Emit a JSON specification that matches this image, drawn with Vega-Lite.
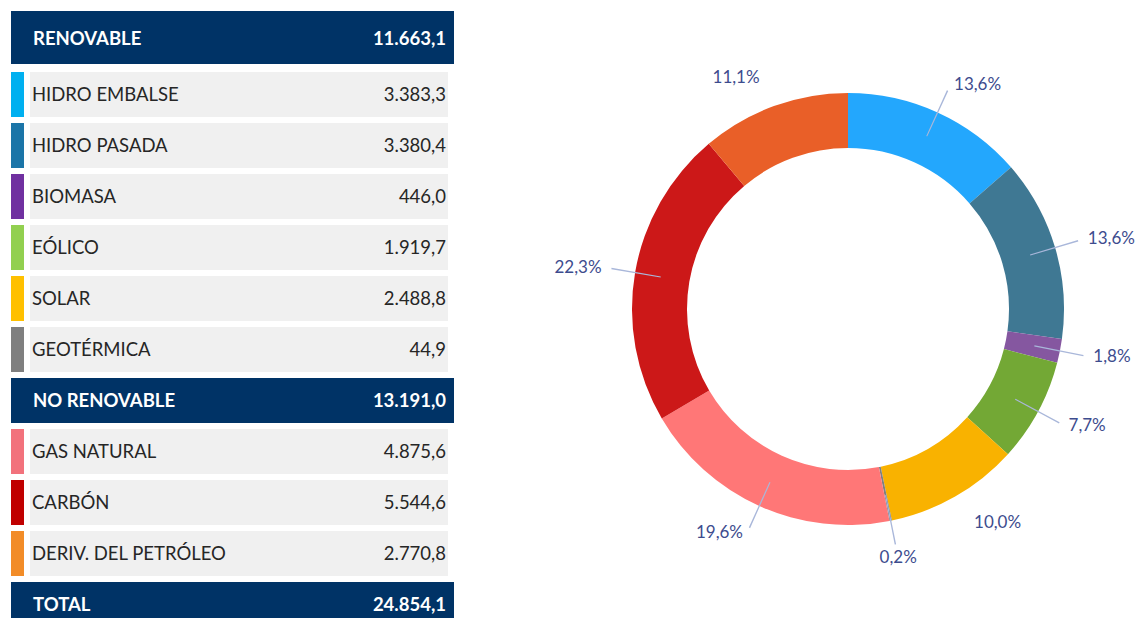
{
  "$schema": "https://vega.github.io/schema/vega-lite/v6.json",
  "padding": 0,
  "spacing": 99,
  "background": "white",
  "config": {
    "view": {"stroke": null},
    "font": "Lato",
    "locale": {"number": {"decimal": ",", "thousands": ".", "grouping": [3], "currency": ["", " €"]}}
  },
  "resolve": {"scale": {"color": "independent"}},
  "datasets": {
    "tabla": [
      {"i": 0, "label": "RENOVABLE", "value": 11663.1, "type": "header", "cat": "RENOVABLE"},
      {"i": 1, "label": "HIDRO EMBALSE", "value": 3383.3, "type": "item", "cat": "HIDRO EMBALSE"},
      {"i": 2, "label": "HIDRO PASADA", "value": 3380.4, "type": "item", "cat": "HIDRO PASADA"},
      {"i": 3, "label": "BIOMASA", "value": 446.0, "type": "item", "cat": "BIOMASA"},
      {"i": 4, "label": "EÓLICO", "value": 1919.7, "type": "item", "cat": "EÓLICO"},
      {"i": 5, "label": "SOLAR", "value": 2488.8, "type": "item", "cat": "SOLAR"},
      {"i": 6, "label": "GEOTÉRMICA", "value": 44.9, "type": "item", "cat": "GEOTÉRMICA"},
      {"i": 7, "label": "NO RENOVABLE", "value": 13191.0, "type": "header", "cat": "NO RENOVABLE"},
      {"i": 8, "label": "GAS NATURAL", "value": 4875.6, "type": "item", "cat": "GAS NATURAL"},
      {"i": 9, "label": "CARBÓN", "value": 5544.6, "type": "item", "cat": "CARBÓN"},
      {"i": 10, "label": "DERIV. DEL PETRÓLEO", "value": 2770.8, "type": "item", "cat": "DERIV. DEL PETRÓLEO"},
      {"i": 11, "label": "TOTAL", "value": 24854.1, "type": "header", "cat": "TOTAL"}
    ],
    "energia": [
      {"cat": "HIDRO EMBALSE", "value": 3383.3, "pct": 0.136, "order": 1},
      {"cat": "HIDRO PASADA", "value": 3380.4, "pct": 0.136, "order": 2},
      {"cat": "BIOMASA", "value": 446.0, "pct": 0.018, "order": 3},
      {"cat": "EÓLICO", "value": 1919.7, "pct": 0.077, "order": 4},
      {"cat": "SOLAR", "value": 2488.8, "pct": 0.100, "order": 5},
      {"cat": "GEOTÉRMICA", "value": 44.9, "pct": 0.002, "order": 6},
      {"cat": "GAS NATURAL", "value": 4875.6, "pct": 0.196, "order": 7},
      {"cat": "CARBÓN", "value": 5544.6, "pct": 0.223, "order": 8},
      {"cat": "DERIV. DEL PETRÓLEO", "value": 2770.8, "pct": 0.111, "order": 9}
    ]
  },
  "hconcat": [
    {
      "width": 455,
      "height": 618,
      "data": {"name": "tabla"},
      "encoding": {
        "y": {"field": "i", "type": "ordinal", "axis": null,
              "scale": {"range": [18, 630], "paddingInner": 0.118, "paddingOuter": 0.059}}
      },
      "layer": [
        {
          "transform": [{"filter": "datum.type === 'item'"}],
          "mark": {"type": "rect", "color": "#F0F0F0"},
          "encoding": {"x": {"value": 30}, "x2": {"value": 448}}
        },
        {
          "transform": [{"filter": "datum.type === 'header' && datum.i > 0"}],
          "mark": {"type": "rect", "color": "#003366", "clip": true},
          "encoding": {"x": {"value": 11}, "x2": {"value": 454}}
        },
        {
          "transform": [{"filter": "datum.i === 0"}],
          "mark": {"type": "rect", "color": "#003366", "yOffset": -6, "height": 53},
          "encoding": {"x": {"value": 11}, "x2": {"value": 454}}
        },
        {
          "transform": [{"filter": "datum.type === 'item'"}],
          "mark": {"type": "rect"},
          "encoding": {
            "x": {"value": 11}, "x2": {"value": 24},
            "color": {"field": "cat", "type": "nominal", "legend": null,
              "scale": {
                "domain": ["HIDRO EMBALSE", "HIDRO PASADA", "BIOMASA", "EÓLICO", "SOLAR", "GEOTÉRMICA", "GAS NATURAL", "CARBÓN", "DERIV. DEL PETRÓLEO"],
                "range": ["#00B0F0", "#1B75A8", "#7030A0", "#92D050", "#FFC000", "#7F7F7F", "#F2727C", "#C00000", "#F28C28"]
              }}
          }
        },
        {
          "transform": [{"filter": "datum.type === 'item'"}],
          "mark": {"type": "text", "align": "left", "baseline": "middle", "fontSize": 18.5, "color": "#262626"},
          "encoding": {"x": {"value": 32}, "text": {"field": "label"}}
        },
        {
          "transform": [{"filter": "datum.type === 'item'"}],
          "mark": {"type": "text", "align": "right", "baseline": "middle", "fontSize": 18.5, "color": "#262626"},
          "encoding": {"x": {"value": 446}, "text": {"field": "value", "type": "quantitative", "format": ",.1f"}}
        },
        {
          "transform": [{"filter": "datum.type === 'header' && datum.i > 0"}],
          "mark": {"type": "text", "align": "left", "baseline": "middle", "fontSize": 18.5, "fontWeight": "bold", "color": "white"},
          "encoding": {"x": {"value": 33}, "text": {"field": "label"}}
        },
        {
          "transform": [{"filter": "datum.type === 'header' && datum.i > 0"}],
          "mark": {"type": "text", "align": "right", "baseline": "middle", "fontSize": 18.5, "fontWeight": "bold", "color": "white"},
          "encoding": {"x": {"value": 446}, "text": {"field": "value", "type": "quantitative", "format": ",.1f"}}
        },
        {
          "transform": [{"filter": "datum.i === 0"}],
          "mark": {"type": "text", "align": "left", "baseline": "middle", "fontSize": 18.5, "fontWeight": "bold", "color": "white", "yOffset": -5},
          "encoding": {"x": {"value": 33}, "text": {"field": "label"}}
        },
        {
          "transform": [{"filter": "datum.i === 0"}],
          "mark": {"type": "text", "align": "right", "baseline": "middle", "fontSize": 18.5, "fontWeight": "bold", "color": "white", "yOffset": -5},
          "encoding": {"x": {"value": 446}, "text": {"field": "value", "type": "quantitative", "format": ",.1f"}}
        }
      ]
    },
    {
      "width": 582,
      "height": 618,
      "data": {"name": "energia"},
      "transform": [
        {"stack": "value", "sort": [{"field": "order", "order": "ascending"}], "groupby": [], "as": ["v0", "v1"]}
      ],
      "layer": [
        {
          "mark": {"type": "arc", "outerRadius": 216, "innerRadius": 161},
          "encoding": {
            "theta": {"field": "v0", "type": "quantitative", "stack": null, "scale": {"domain": [0, 24854.1]}},
            "theta2": {"field": "v1"},
            "color": {"field": "cat", "type": "nominal", "legend": null,
              "scale": {
                "domain": ["HIDRO EMBALSE", "HIDRO PASADA", "BIOMASA", "EÓLICO", "SOLAR", "GEOTÉRMICA", "GAS NATURAL", "CARBÓN", "DERIV. DEL PETRÓLEO"],
                "range": ["#23A7FD", "#3F7893", "#8557A0", "#73A835", "#F9B200", "#808080", "#FF7777", "#CC1818", "#E95F28"]
              }}
          }
        },
        {
          "transform": [
            {"fold": ["v0", "v1"], "as": ["k", "edge"]},
            {"aggregate": [{"op": "mean", "field": "edge", "as": "mid"}], "groupby": ["cat"]},
            {"filter": {"field": "cat", "oneOf": ["HIDRO EMBALSE", "HIDRO PASADA", "BIOMASA", "EÓLICO", "GEOTÉRMICA", "GAS NATURAL", "CARBÓN"]}}
          ],
          "mark": {"type": "arc", "outerRadius": 240, "innerRadius": 190, "thetaOffset": -0.003, "theta2Offset": 0.003, "color": "#A9B7DA"},
          "encoding": {
            "theta": {"field": "mid", "type": "quantitative", "stack": null},
            "theta2": {"field": "mid"}
          }
        },
        {
          "transform": [
            {"fold": ["v0", "v1"], "as": ["k", "edge"]},
            {"aggregate": [{"op": "mean", "field": "edge", "as": "mid"}, {"op": "max", "field": "pct", "as": "pct"}, {"op": "max", "field": "order", "as": "order"}], "groupby": ["cat"]},
            {"filter": "datum.order <= 5"}
          ],
          "mark": {"type": "text", "radius": 246, "align": "left", "baseline": "middle", "dx": 4, "fontSize": 17, "color": "#3D4C8E"},
          "encoding": {
            "theta": {"field": "mid", "type": "quantitative", "stack": null},
            "text": {"field": "pct", "type": "quantitative", "format": ".1%"}
          }
        },
        {
          "transform": [
            {"fold": ["v0", "v1"], "as": ["k", "edge"]},
            {"aggregate": [{"op": "mean", "field": "edge", "as": "mid"}, {"op": "max", "field": "pct", "as": "pct"}, {"op": "max", "field": "order", "as": "order"}], "groupby": ["cat"]},
            {"filter": "datum.order >= 7"}
          ],
          "mark": {"type": "text", "radius": 246, "align": "right", "baseline": "middle", "dx": -4, "fontSize": 17, "color": "#3D4C8E"},
          "encoding": {
            "theta": {"field": "mid", "type": "quantitative", "stack": null},
            "text": {"field": "pct", "type": "quantitative", "format": ".1%"}
          }
        },
        {
          "transform": [
            {"fold": ["v0", "v1"], "as": ["k", "edge"]},
            {"aggregate": [{"op": "mean", "field": "edge", "as": "mid"}, {"op": "max", "field": "pct", "as": "pct"}, {"op": "max", "field": "order", "as": "order"}], "groupby": ["cat"]},
            {"filter": "datum.order === 6"}
          ],
          "mark": {"type": "text", "radius": 254, "align": "center", "baseline": "middle", "fontSize": 17, "color": "#3D4C8E"},
          "encoding": {
            "theta": {"field": "mid", "type": "quantitative", "stack": null},
            "text": {"field": "pct", "type": "quantitative", "format": ".1%"}
          }
        }
      ]
    }
  ]
}
